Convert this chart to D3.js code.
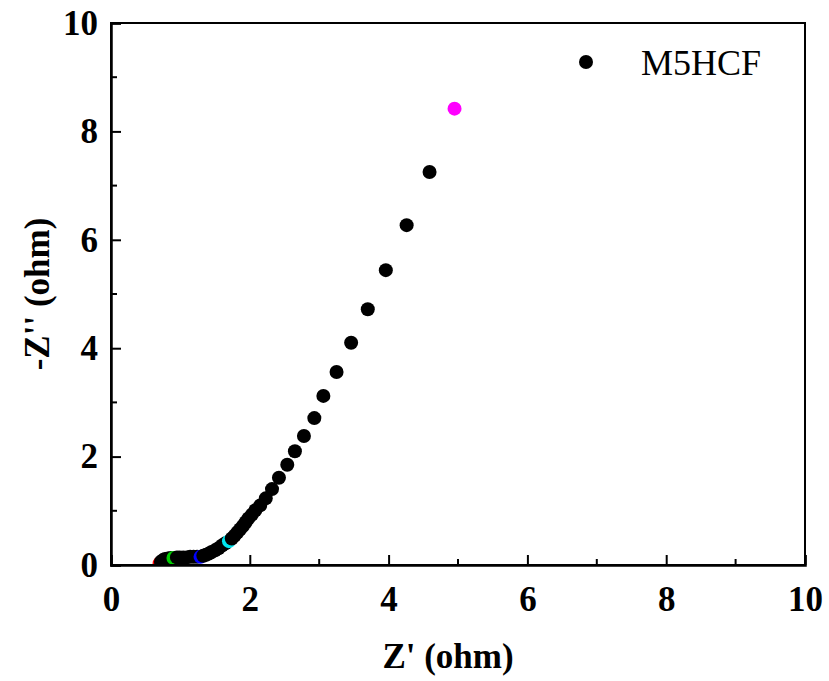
<!DOCTYPE html>
<html>
<head>
<meta charset="utf-8">
<script src="https://cdn.jsdelivr.net/npm/d3@7/dist/d3.min.js"></script>
<style>
  body { margin: 0; background: #fff; }
  svg text { font-family: "Times New Roman", Times, "Liberation Serif", Tinos, "Nimbus Roman", "DejaVu Serif", serif; }
</style>
</head>
<body>
<div id="chart"></div>
<script>
// Nyquist data, high frequency -> low frequency
var zReal = [0.70, 0.72, 0.75, 0.78, 0.82, 0.86, 0.90, 0.95, 0.99, 1.04, 1.09, 1.14, 1.19, 1.24,
  1.29, 1.33, 1.37, 1.41, 1.45, 1.50, 1.55, 1.60, 1.65, 1.70, 1.74, 1.78, 1.82, 1.86, 1.90,
  1.94, 1.98, 2.03, 2.08, 2.15, 2.23, 2.32, 2.42, 2.54, 2.65, 2.78, 2.93, 3.06, 3.25, 3.46,
  3.70, 3.96, 4.26, 4.59, 4.95];
var zImag = [0.03, 0.06, 0.09, 0.11, 0.12, 0.13, 0.13, 0.14, 0.14, 0.14, 0.14, 0.15, 0.15, 0.15,
  0.15, 0.17, 0.19, 0.21, 0.24, 0.27, 0.31, 0.36, 0.40, 0.44, 0.49, 0.54, 0.60, 0.66, 0.72,
  0.79, 0.86, 0.93, 1.01, 1.10, 1.23, 1.40, 1.61, 1.85, 2.10, 2.38, 2.71, 3.12, 3.56, 4.10,
  4.72, 5.44, 6.27, 7.25, 8.42];
var xTicks = [0, 2, 4, 6, 8, 10];
var yTicks = [0, 2, 4, 6, 8, 10];
var seriesName = 'M5HCF';

// a few points are marked in colour (first, last and some in between)
var markColor = { 0: '#ff0000', 6: '#00cc00', 14: '#0000ff', 23: '#00e5ee', 48: '#ff00ff' };

var serif = '"Times New Roman", Times, "Liberation Serif", Tinos, "Nimbus Roman", "DejaVu Serif", serif';

var width = 829, height = 681;
var margin = { top: 23, right: 24, bottom: 116, left: 111 };
var w = width - margin.left - margin.right;
var h = height - margin.top - margin.bottom;

var svg = d3.select('#chart').append('svg')
  .attr('width', width)
  .attr('height', height);

var g = svg.append('g')
  .attr('transform', 'translate(' + margin.left + ',' + margin.top + ')');

var x = d3.scaleLinear().domain([0, 10]).range([0, w]);
var y = d3.scaleLinear().domain([0, 10]).range([h, 0]);

g.append('clipPath').attr('id', 'clip')
  .append('rect').attr('width', w).attr('height', h);

var data = zReal.map(function (d, i) { return { x: d, y: zImag[i], i: i }; });

g.append('g').attr('clip-path', 'url(#clip)')
  .selectAll('circle')
  .data(data)
  .enter()
  .append('circle')
  .attr('cx', function (d) { return x(d.x); })
  .attr('cy', function (d) { return y(d.y); })
  .attr('r', 7)
  .attr('fill', function (d) { return markColor[d.i] || '#000'; });

// minor ticks
var minor = d3.range(1, 10, 2);
g.append('g').selectAll('line').data(minor).enter().append('line')
  .attr('x1', function (d) { return x(d); }).attr('x2', function (d) { return x(d); })
  .attr('y1', h).attr('y2', h - 6)
  .attr('stroke', '#000').attr('stroke-width', 2);
g.append('g').selectAll('line').data(minor).enter().append('line')
  .attr('y1', function (d) { return y(d); }).attr('y2', function (d) { return y(d); })
  .attr('x1', 0).attr('x2', 6)
  .attr('stroke', '#000').attr('stroke-width', 2);

// frame
g.append('rect')
  .attr('width', w).attr('height', h)
  .attr('fill', 'none').attr('stroke', '#000').attr('stroke-width', 2);

var xAxis = g.append('g')
  .attr('transform', 'translate(0,' + h + ')')
  .call(d3.axisBottom(x).tickValues(xTicks).tickSize(-10).tickPadding(21));
var yAxis = g.append('g')
  .call(d3.axisLeft(y).tickValues(yTicks).tickSize(-10).tickPadding(13));

[xAxis, yAxis].forEach(function (a) {
  a.attr('font-family', serif);
  a.select('.domain').attr('stroke-width', 2.5);
  a.selectAll('.tick line').attr('stroke-width', 2);
  a.selectAll('.tick text')
    .style('font-family', serif)
    .attr('font-size', 35)
    .attr('font-weight', 'bold')
    .attr('fill', '#000');
});

// axis titles
svg.append('text')
  .attr('x', margin.left + w / 2 - 10)
  .attr('y', 668)
  .attr('text-anchor', 'middle')
  .style('font-family', serif)
  .attr('font-size', 35)
  .attr('font-weight', 'bold')
  .text("Z' (ohm)");

svg.append('text')
  .attr('transform', 'translate(49,' + (margin.top + h / 2) + ') rotate(-90)')
  .attr('text-anchor', 'middle')
  .style('font-family', serif)
  .attr('font-size', 35)
  .attr('font-weight', 'bold')
  .text("-Z'' (ohm)");

// legend
svg.append('circle')
  .attr('cx', 586).attr('cy', 62).attr('r', 7).attr('fill', '#000');
svg.append('text')
  .attr('x', 641).attr('y', 75)
  .style('font-family', serif)
  .attr('font-size', 36)
  .text(seriesName);
</script>
</body>
</html>
